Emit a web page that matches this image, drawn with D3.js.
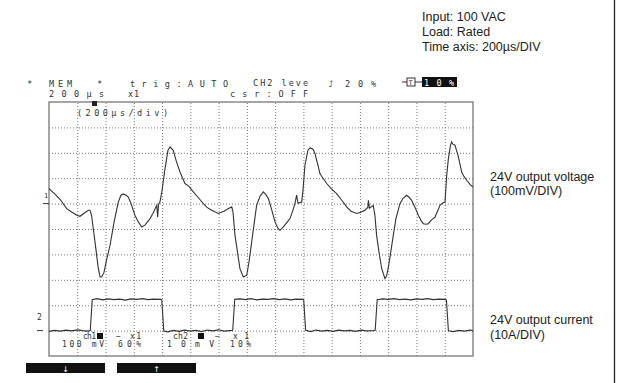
<!DOCTYPE html>
<html>
<head>
<meta charset="utf-8">
<script src="https://cdn.jsdelivr.net/npm/d3@7"></script>
<style>
  html, body { margin: 0; padding: 0; background: #fff; }
  svg { display: block; }
  .scope { font-family: "DejaVu Sans Mono", monospace; fill: #333; }
  .note { font-family: "Liberation Sans", Arial, sans-serif; font-size: 12.5px; fill: #222; }
</style>
</head>
<body>
<div id="chart"></div>
<script>
// ch1: 24V output voltage ripple, mV relative to marker 1 (100mV/div)
const voltTime = [0, 42, 78, 125, 163, 196, 219, 248, 278, 290, 301, 313, 333, 347, 361, 373, 389, 410, 432, 460,
  490, 509, 526, 545, 561, 580, 608, 630, 656, 679, 715, 736, 762, 769, 775, 785, 800, 821, 842, 856,
  879, 899, 927, 962, 990, 1021, 1054, 1092, 1118, 1151, 1198, 1238, 1267, 1293, 1302, 1316, 1334, 1351, 1375, 1399,
  1415, 1434, 1450, 1469, 1493, 1516, 1532, 1552, 1571, 1599, 1620, 1634, 1658, 1684, 1705, 1726, 1740, 1752, 1762, 1788,
  1797, 1811, 1832, 1847, 1868, 1882, 1903, 1917, 1939, 1965, 1995, 2035, 2066, 2106, 2137, 2177, 2207, 2235, 2256, 2260,
  2267, 2294, 2306, 2318, 2335, 2354, 2377, 2388, 2401, 2420, 2436, 2455, 2483, 2505, 2531, 2547, 2566, 2590, 2613, 2632,
  2648, 2667, 2684, 2703, 2731, 2752, 2766, 2788, 2802, 2814, 2826, 2841, 2849, 2858, 2872, 2894, 2920, 2936, 2955, 2979, 3000];
const voltValues = [59, 37, 17, -20, -34, -46, -50, -38, -26, -26, -46, -97, -184, -247, -289, -289, -271, -215, -164, -74,
  6, 33, 38, 33, 26, 1, -46, -70, -92, -85, -59, -38, -7, -53, -3, 6, 52, 138, 210, 223,
  210, 170, 124, 79, 68, 46, 25, 0, -15, -26, -39, -30, -20, -13, -34, -125, -192, -256, -289, -282,
  -231, -151, -85, -7, 29, 46, 37, 20, -15, -72, -97, -105, -92, -74, -59, -26, 0, 33, 1, 6,
  52, 151, 210, 220, 214, 197, 151, 118, 100, 79, 60, 39, 17, -13, -30, -39, -34, -26, -15, 13,
  -18, -7, -46, -125, -192, -256, -295, -286, -250, -184, -125, -58, 0, 21, 33, 25, 13, -15, -46, -66,
  -79, -81, -79, -66, -53, -26, -7, 3, 6, 111, 178, 230, 243, 234, 230, 190, 124, 107, 92, 76, 65];

// ch2: 24V output current, A relative to marker 2 (10A/div)
const currTime = [0, 40, 80, 120, 160, 200, 240, 280, 292, 306,
  340, 380, 420, 460, 500, 540, 580, 620, 660, 700, 740, 790, 798, 812,
  840, 880, 920, 960, 1000, 1040, 1080, 1120, 1160, 1200, 1240, 1280, 1300, 1314,
  1350, 1390, 1430, 1470, 1510, 1550, 1590, 1630, 1670, 1710, 1750, 1795, 1802, 1816,
  1850, 1890, 1930, 1970, 2010, 2050, 2090, 2130, 2170, 2210, 2250, 2295, 2308, 2322,
  2360, 2400, 2440, 2480, 2520, 2560, 2600, 2640, 2680, 2720, 2760, 2805, 2812, 2826,
  2860, 2900, 2940, 2980, 3000];
const currValues = [-0.3, 0.1, -0.2, 0.2, -0.1, 0.3, 0, -0.2, 0, 12.2,
  12.6, 12.1, 12.5, 12.2, 12.4, 12.0, 12.5, 12.3, 12.6, 12.2, 12.4, 12.3, 12.1, -0.2,
  -0.5, 0.1, -0.3, 0.2, -0.2, 0.1, -0.4, 0.2, -0.1, 0.3, -0.2, 0, 0.1, 12.3,
  12.5, 12.2, 12.6, 12.1, 12.4, 12.3, 12.6, 12.2, 12.5, 12.1, 12.4, 12.3, 12.1, 0.1,
  -0.4, 0.2, -0.2, 0.1, -0.3, 0.2, -0.1, 0.1, -0.3, 0.2, -0.1, 0, 0.1, 12.2,
  12.5, 12.3, 12.6, 12.2, 12.4, 12.1, 12.5, 12.3, 12.6, 12.2, 12.4, 12.3, 12.0, -0.1,
  -0.4, 0.1, -0.2, 0.2, -0.1];

const xTicks = d3.range(0, 3001, 200);   // 200 us / div
const yDivs = d3.range(0, 11);          // 10 vertical divisions

const noteLines = ["Input: 100 VAC", "Load: Rated", "Time axis: 200\u00b5s/DIV"];
const chLabels = [["24V output voltage", "(100mV/DIV)"], ["24V output current", "(10A/DIV)"]];

const W = 624, H = 383;
const plot = {left: 49, right: 473, top: 102, bottom: 356};

const svg = d3.select("#chart").append("svg")
  .attr("width", W).attr("height", H);
svg.append("rect").attr("width", W).attr("height", H).attr("fill", "#fff");

const x = d3.scaleLinear().domain([0, 3000]).range([plot.left, plot.right]);
const yDiv = d3.scaleLinear().domain([0, 10]).range([plot.bottom, plot.top]);
const yV = d3.scaleLinear().domain([-600, 400]).range([plot.bottom, plot.top]); // 0 mV at div 6
const yI = d3.scaleLinear().domain([-10, 90]).range([plot.bottom, plot.top]);   // 0 A at div 1

// dotted graticule
svg.append("g")
  .attr("transform", "translate(0," + plot.bottom + ")")
  .call(d3.axisBottom(x).tickValues(xTicks.slice(1, -1)).tickSize(-(plot.bottom - plot.top)).tickFormat(""))
  .call(g => g.select(".domain").remove())
  .selectAll("line").attr("stroke", "#777").attr("stroke-dasharray", "1,2");
svg.append("g")
  .attr("transform", "translate(" + plot.left + ",0)")
  .call(d3.axisLeft(yDiv).tickValues(yDivs.slice(1, -1)).tickSize(-(plot.right - plot.left)).tickFormat(""))
  .call(g => g.select(".domain").remove())
  .selectAll("line").attr("stroke", "#777").attr("stroke-dasharray", "1,2");

svg.append("rect")
  .attr("x", plot.left).attr("y", plot.top)
  .attr("width", plot.right - plot.left).attr("height", plot.bottom - plot.top)
  .attr("fill", "none").attr("stroke", "#777").attr("stroke-width", 1.3);

// channel markers
svg.append("line").attr("x1", 43).attr("x2", 49).attr("y1", yV(0)).attr("y2", yV(0)).attr("stroke", "#333");
svg.append("text").attr("class", "scope").attr("x", 44).attr("y", yV(0) - 6).attr("font-size", 7).text("1");
svg.append("line").attr("x1", 37).attr("x2", 43).attr("y1", yI(0)).attr("y2", yI(0)).attr("stroke", "#333");
svg.append("text").attr("class", "scope").attr("x", 37).attr("y", yI(0) - 11).attr("font-size", 8).text("2");

// traces
const voltLine = d3.line().x(d => x(d[0])).y(d => yV(d[1]));
const currLine = d3.line().x(d => x(d[0])).y(d => yI(d[1]));
svg.append("path").datum(d3.zip(voltTime, voltValues))
  .attr("d", voltLine).attr("fill", "none").attr("stroke", "#333").attr("stroke-width", 1.1);
svg.append("path").datum(d3.zip(currTime, currValues))
  .attr("d", currLine).attr("fill", "none").attr("stroke", "#333").attr("stroke-width", 1.1);

// scope screen text: [text, x0, x1, baseline, size]
function scopeText(items) {
  items.forEach(([t, x0, x1, yb, size]) => {
    const el = svg.append("text").attr("class", "scope")
      .attr("x", x0).attr("y", yb).attr("font-size", size || 8.5).text(t);
    if (t.length > 1) el.attr("textLength", x1 - x0).attr("lengthAdjust", "spacing");
  });
}
scopeText([
  ["*", 27, 33, 86.5, 9], ["MEM", 49, 72, 86.5], ["*", 97, 103, 86.5, 9], ["trig:AUTO", 130, 228, 86.5],
  ["200\u00b5s", 49, 104, 96.5], ["x1", 128, 139, 96.5], ["csr:OFF", 230, 308, 96.5],
  ["20%", 345, 376, 86.5],
  ["(200\u00b5s/div)", 77, 168, 116],
  ["ch1", 83, 96, 338.5, 8], ["\u2212", 116, 121, 338.5, 8], ["x 1", 130, 141, 338.5, 8],
  ["ch2", 173, 188, 338.5, 8], ["\u2212", 215, 220, 338.5, 8], ["x 1", 233, 249, 338.5, 8],
  ["100 mV", 62, 104, 347, 8], ["60%", 118, 141, 347, 8],
  ["10mV", 167, 214, 347, 8], ["10%", 230, 251, 347, 8]
]);
svg.append("text").attr("class", "scope").attr("x", 253).attr("y", 86)
  .attr("font-size", 8.5).attr("textLength", 55).attr("lengthAdjust", "spacing").text("CH2 leve");
svg.append("text").attr("x", 329).attr("y", 86.5).attr("font-family", "DejaVu Sans")
  .attr("font-size", 8).attr("fill", "#333").text("\u2934");
// trigger position icon and inverse box
svg.append("line").attr("x1", 402).attr("x2", 422).attr("y1", 82).attr("y2", 82).attr("stroke", "#333");
svg.append("rect").attr("x", 407).attr("y", 78).attr("width", 8).attr("height", 8)
  .attr("fill", "#fff").attr("stroke", "#333");
svg.append("text").attr("class", "scope").attr("x", 408.5).attr("y", 85).attr("font-size", 7).text("T");
svg.append("rect").attr("x", 422).attr("y", 77).attr("width", 35).attr("height", 10).attr("fill", "#111");
svg.append("text").attr("class", "scope").attr("x", 424).attr("y", 85.5).attr("font-size", 8.5)
  .style("fill", "#fff").attr("textLength", 30).attr("lengthAdjust", "spacing").text("10%");
// trigger point mark
svg.append("rect").attr("x", 92).attr("y", 101).attr("width", 5).attr("height", 5).attr("fill", "#222");
// channel colour squares
svg.append("rect").attr("x", 97).attr("y", 333).attr("width", 6).attr("height", 6).attr("fill", "#111");
svg.append("rect").attr("x", 198).attr("y", 333).attr("width", 6).attr("height", 6).attr("fill", "#111");

// soft keys
[[26, 105, "\u2193"], [117, 196, "\u2191"]].forEach(([a, b, s]) => {
  svg.append("rect").attr("x", a).attr("y", 363).attr("width", b - a).attr("height", 10).attr("fill", "#111");
  svg.append("text").attr("x", (a + b) / 2).attr("y", 371.5).attr("text-anchor", "middle")
    .attr("font-family", "DejaVu Sans").attr("font-size", 8).attr("fill", "#fff").text(s);
});

// annotations
svg.selectAll(".noteTop").data(noteLines).enter().append("text")
  .attr("class", "note").attr("x", 422).attr("y", (d, i) => 20.5 + i * 15.3).text(d => d);
chLabels.forEach((pair, k) => {
  const base = k === 0 ? 180.5 : 324;
  pair.forEach((t, i) => {
    svg.append("text").attr("class", "note").attr("x", 490).attr("y", base + i * 14.8).text(t);
  });
});

svg.append("line").attr("x1", 614.5).attr("x2", 614.5).attr("y1", 0).attr("y2", H)
  .attr("stroke", "#222").attr("stroke-width", 1.3);
</script>
</body>
</html>
